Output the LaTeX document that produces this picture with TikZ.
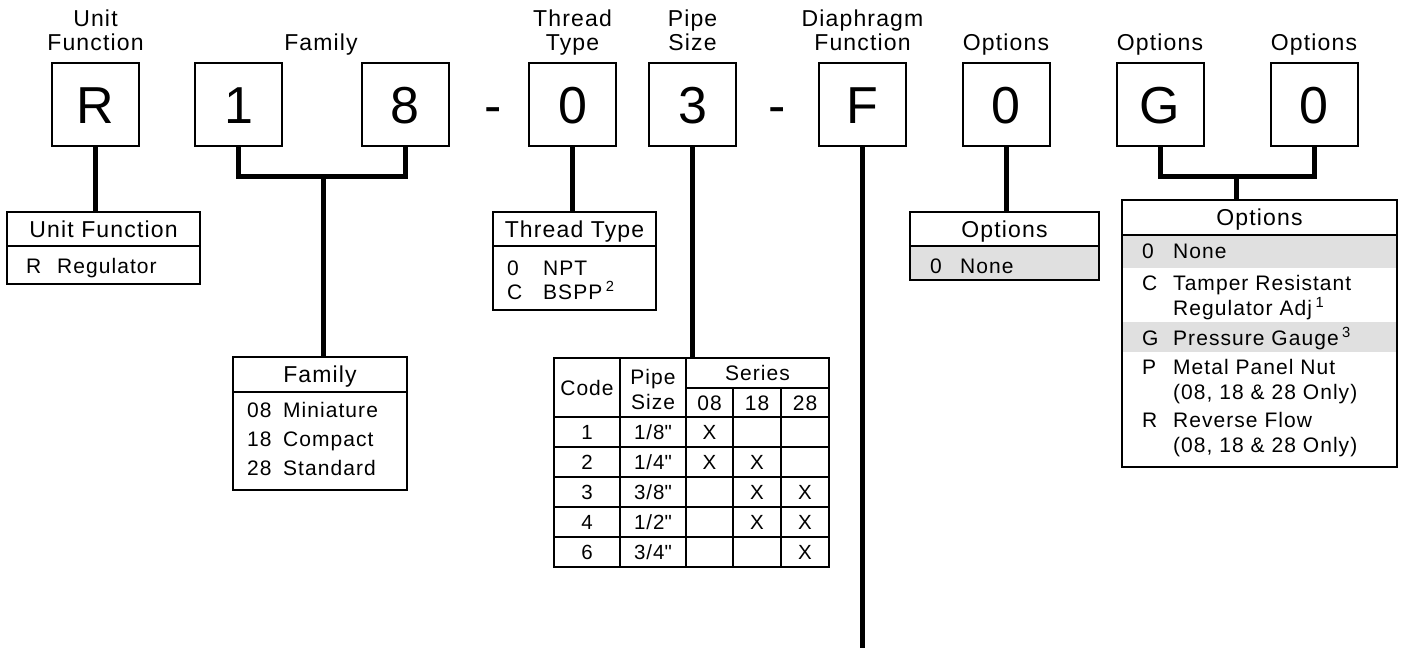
\documentclass[tikz,border=0pt]{standalone}
\usepackage{fontspec}
\setmainfont{Liberation Sans}[LetterSpace=5]
\newfontfamily\plainsans{Liberation Sans}
\usetikzlibrary{positioning}

\definecolor{rowgray}{HTML}{E0E0E0}
\newcommand{\letterfont}{\plainsans\fontsize{52}{60}\selectfont}
\newcommand{\lblfont}{\fontsize{23}{24}\selectfont}
\newcommand{\entryfont}{\fontsize{21}{25}\selectfont}
\newcommand{\cellfont}{\fontsize{20.5}{24}\selectfont}
\newcommand{\twoline}[2]{\begin{tabular}[b]{@{}c@{}}#1\\#2\end{tabular}}

\begin{document}
\begin{tikzpicture}[
    x=1pt, y=-1pt,
    letterbox/.style={draw, line width=2pt, minimum width=87pt, minimum height=83pt,
      inner sep=0pt, outer sep=0pt, text height=37pt, text depth=0pt, font=\letterfont},
    dashmark/.style={anchor=base, inner sep=0pt, font=\letterfont},
    toplabel/.style={anchor=base, inner sep=0pt, font=\lblfont},
    conn/.style={line width=5pt},
    headbox/.style={draw, line width=2pt, minimum height=34pt, inner sep=0pt, outer sep=0pt,
      text height=16.5pt, text depth=0pt, font=\lblfont},
    bodybox/.style={draw, line width=2pt, inner sep=0pt, outer sep=0pt},
    grayrow/.style={fill=rowgray, inner sep=0pt, outer sep=0pt},
    entry/.style={anchor=base west, inner sep=0pt, font=\entryfont},
    tabtext/.style={inner sep=0pt, text height=14.7pt, text depth=0pt, font=\cellfont},
    tabhead/.style={inner sep=0pt, text height=15pt, text depth=0pt, font=\fontsize{21}{24}\selectfont},
    tabline/.style={line width=2.5pt},
    rowline/.style={line width=1.2pt}
  ]

  \useasboundingbox (0,0) rectangle (1403,648);

  % model code letters
  \node[letterbox] (uR) at (95.5,104.5) {R};
  \node[letterbox] (fam1) at (238.5,104.5) {1};
  \node[letterbox] (fam8) at (405,104.5) {8};
  \node[dashmark] (dashA) at (493,123) {-};
  \node[letterbox] (thr) at (572.5,104.5) {0};
  \node[letterbox] (pipe) at (692.5,104.5) {3};
  \node[dashmark] (dashB) at (777,123) {-};
  \node[letterbox] (diaF) at (862.5,104.5) {F};
  \node[letterbox] (optA) at (1006,104.5) {0};
  \node[letterbox] (optG) at (1160,104.5) {G};
  \node[letterbox] (optB) at (1314,104.5) {0};

  % labels above
  \node[toplabel] (lblU) at (uR |- 0,50) {\twoline{Unit}{Function}};
  \node[toplabel] (lblFam) at (321,50) {Family};
  \node[toplabel] (lblThr) at (thr |- 0,50) {\twoline{Thread}{Type}};
  \node[toplabel] (lblPipe) at (pipe |- 0,50) {\twoline{Pipe}{Size}};
  \node[toplabel] (lblDia) at (diaF |- 0,50) {\twoline{Diaphragm}{Function}};
  \node[toplabel] (lblOA) at (optA |- 0,50) {Options};
  \node[toplabel] (lblOG) at (optG |- 0,50) {Options};
  \node[toplabel] (lblOB) at (optB |- 0,50) {Options};

  % unit function
  \node[headbox, minimum width=193pt] (ufHead) at (103.5,229) {Unit Function};
  \node[bodybox, minimum width=193pt, minimum height=38pt, below=0pt of ufHead] (ufBody) {};
  \node[entry] (ufc) at (26,273.5) {R};
  \node[entry] (uft) at (57,273.5) {Regulator};
  \draw[conn] (uR.south) -- (uR.south |- ufHead.north);

  % family
  \node[headbox, minimum width=174pt, minimum height=35pt] (famHead) at (320,374.5) {Family};
  \node[bodybox, minimum width=174pt, minimum height=98pt, below=0pt of famHead] (famBody) {};
  \foreach \yy/\cc/\desc [count=\i] in {417.5/08/Miniature, 446.5/18/Compact, 475.5/28/Standard}{
    \node[entry] (famc\i) at (247,\yy) {\cc};
    \node[entry] (famt\i) at (283,\yy) {\desc};
  }
  \coordinate (famJoin) at (323,176);
  \draw[conn] (fam1.south) -- (fam1.south |- famJoin) -- (fam8.south |- famJoin) -- (fam8.south);
  \draw[conn] (famJoin) -- (famJoin |- famHead.north);

  % thread type
  \node[headbox, minimum width=163pt] (thrHead) at (574.5,229) {Thread Type};
  \node[bodybox, minimum width=163pt, minimum height=64pt, below=0pt of thrHead] (thrBody) {};
  \node[entry] (thrc1) at (507,275.5) {0};
  \node[entry] (thrt1) at (543,275.5) {NPT};
  \node[entry] (thrc2) at (507,299.5) {C};
  \node[entry] (thrt2) at (543,299.5) {BSPP\,\textsuperscript{2}};
  \draw[conn] (thr.south) -- (thr.south |- thrHead.north);

  % pipe size table
  \node[draw, tabline, minimum width=275pt, minimum height=209pt, anchor=north west,
    inner sep=0pt, outer sep=0pt] (tab) at (554,358) {};
  \draw[tabline] (620,358) -- (620,567) (686,358) -- (686,567)
    (733,388) -- (733,567) (781,388) -- (781,567)
    (686,388) -- (829,388) (554,417) -- (829,417);
  \foreach \y in {447,477,507,537} \draw[rowline] (554,\y) -- (829,\y);
  \node[tabhead] (tCode) at (587,388) {Code};
  \node[tabhead] (tPipe) at (653,377) {Pipe};
  \node[tabhead] (tSize) at (653,402) {Size};
  \node[tabhead] (tSeries) at (757.5,373) {Series};
  \node[tabhead] (tS08) at (709.5,403) {08};
  \node[tabhead] (tS18) at (757,403) {18};
  \node[tabhead] (tS28) at (805,403) {28};
  \foreach \code/\size/\sa/\sb/\sc [count=\r] in {1/{1/8\textquotedbl}/X/{}/{},
      2/{1/4\textquotedbl}/X/X/{}, 3/{3/8\textquotedbl}/{}/X/X,
      4/{1/2\textquotedbl}/{}/X/X, 6/{3/4\textquotedbl}/{}/{}/X}{
    \node[tabtext] (code\r) at (587,402+30*\r) {\code};
    \node[tabtext] (size\r) at (653,402+30*\r) {\size};
    \node[tabtext] (sa\r) at (709.5,402+30*\r) {\sa};
    \node[tabtext] (sb\r) at (757,402+30*\r) {\sb};
    \node[tabtext] (sc\r) at (805,402+30*\r) {\sc};
  }
  \draw[conn] (pipe.south) -- (pipe.south |- tab.north);

  % diaphragm function
  \coordinate (diaEnd) at (862.5,648);
  \draw[conn] (diaF.south) -- (diaEnd);

  % options (single)
  \node[headbox, minimum width=189pt] (oaHead) at (1004.5,229) {Options};
  \node[bodybox, fill=rowgray, minimum width=189pt, minimum height=34pt, below=0pt of oaHead] (oaBody) {};
  \node[entry] (oac) at (930,273.5) {0};
  \node[entry] (oat) at (960,273.5) {None};
  \draw[conn] (optA.south) -- (optA.south |- oaHead.north);

  % options (pair)
  \node[grayrow, minimum width=275pt, minimum height=33pt, anchor=north] (og0) at (1259.5,235) {};
  \node[grayrow, minimum width=275pt, minimum height=30pt, anchor=north] (ogG) at (1259.5,322) {};
  \node[headbox, minimum width=275pt, minimum height=35pt] (obHead) at (1259.5,217.5) {Options};
  \node[bodybox, minimum width=275pt, minimum height=232pt, below=0pt of obHead] (obBody) {};
  \foreach \yy/\cc/\desc [count=\i] in {258.5/0/None, 290.5/C/Tamper Resistant,
      315.5//Regulator Adj\,\textsuperscript{1}, 345.5/G/Pressure Gauge\,\textsuperscript{3},
      374.5/P/Metal Panel Nut, 399.5//{(08, 18 \& 28 Only)}, 427.5/R/Reverse Flow,
      452.5//{(08, 18 \& 28 Only)}}{
    \node[entry] (obc\i) at (1142,\yy) {\cc};
    \node[entry] (obt\i) at (1173,\yy) {\desc};
  }
  \coordinate (optJoin) at (1236,176);
  \draw[conn] (optG.south) -- (optG.south |- optJoin) -- (optB.south |- optJoin) -- (optB.south);
  \draw[conn] (optJoin) -- (optJoin |- obHead.north);

\end{tikzpicture}
\end{document}
